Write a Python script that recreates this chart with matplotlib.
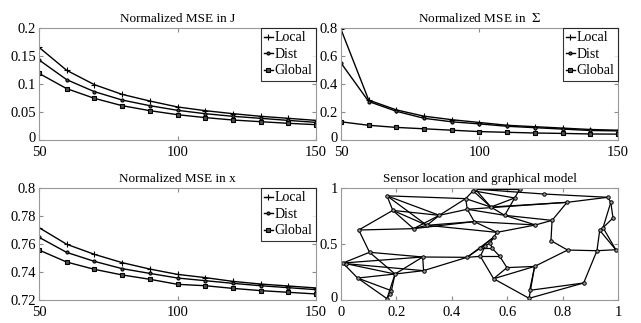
import matplotlib
matplotlib.use("Agg")
import matplotlib.pyplot as plt
import matplotlib.transforms as mtransforms

plt.rcParams['font.family'] = ['Liberation Serif', 'DejaVu Serif']
plt.rcParams['font.size'] = 10
plt.rcParams['mathtext.fontset'] = 'stix'

# number of sensors / samples
n = [50, 60, 70, 80, 90, 100, 110, 120, 130, 140, 150]
labels = ['Local', 'Dist', 'Global']

# normalized MSE in J
mse_J_local = [0.1655, 0.1244, 0.0988, 0.0815, 0.0696, 0.059, 0.0524, 0.047, 0.0423, 0.0387, 0.035]
mse_J_dist = [0.143, 0.1077, 0.0863, 0.0714, 0.0613, 0.053, 0.047, 0.0423, 0.0387, 0.035, 0.0315]
mse_J_global = [0.119, 0.0917, 0.0744, 0.0613, 0.0524, 0.0452, 0.040, 0.0357, 0.0327, 0.0298, 0.0274]

# normalized MSE in Sigma
mse_S_local = [0.79, 0.285, 0.215, 0.17, 0.145, 0.125, 0.105, 0.095, 0.085, 0.075, 0.07]
mse_S_dist = [0.55, 0.275, 0.205, 0.155, 0.13, 0.115, 0.098, 0.088, 0.078, 0.068, 0.065]
mse_S_global = [0.13, 0.105, 0.09, 0.08, 0.07, 0.06, 0.055, 0.05, 0.047, 0.043, 0.042]

# normalized MSE in x
mse_x_local = [0.7717, 0.7598, 0.7526, 0.7467, 0.7421, 0.7383, 0.736, 0.7333, 0.7314, 0.730, 0.7286]
mse_x_dist = [0.7648, 0.754, 0.7476, 0.7424, 0.739, 0.7357, 0.7338, 0.7319, 0.7302, 0.7288, 0.7274]
mse_x_global = [0.7557, 0.7471, 0.7419, 0.7379, 0.7348, 0.7312, 0.7302, 0.7283, 0.7267, 0.7255, 0.7243]

# sensor locations
sensor_x = [0.166, 0.187, 0.064, 0.262, 0.310, 0.355, 0.450, 0.485, 0.477, 0.645,
            0.734, 0.627, 0.541, 0.456, 0.481, 0.591, 0.702, 0.762, 0.816, 0.963,
            0.974, 0.982, 0.946, 0.934, 0.992, 0.924, 0.818, 0.758, 0.563, 0.551,
            0.539, 0.521, 0.503, 0.545, 0.503, 0.455, 0.573, 0.599, 0.551, 0.699,
            0.681, 0.679, 0.876, 0.103, 0.007, 0.019, 0.060, 0.195, 0.295, 0.298,
            0.182, 0.176, 0.166]
sensor_y = [0.930, 0.800, 0.625, 0.637, 0.667, 0.756, 0.905, 0.990, 0.975, 0.990,
            0.946, 0.911, 0.830, 0.810, 0.700, 0.756, 0.670, 0.711, 0.872, 0.917,
            0.872, 0.732, 0.646, 0.622, 0.449, 0.440, 0.446, 0.530, 0.604, 0.560,
            0.510, 0.485, 0.464, 0.464, 0.390, 0.381, 0.390, 0.289, 0.190, 0.300,
            0.086, 0.015, 0.152, 0.426, 0.330, 0.324, 0.196, 0.232, 0.384, 0.262,
            0.083, 0.054, 0.012]

# graphical model edges (pairs of sensor indices)
edges = [(0, 6), (0, 1), (0, 4), (0, 5), (1, 2), (1, 3), (1, 4), (1, 5), (2, 3),
         (3, 4), (4, 5), (3, 5), (4, 14), (5, 13), (5, 6), (2, 43), (6, 8), (6, 13),
         (6, 12), (7, 9), (8, 12), (7, 12), (9, 11), (11, 12), (7, 10), (10, 19),
         (11, 15), (13, 14), (12, 15), (13, 15), (14, 16), (14, 28), (15, 17),
         (28, 16), (16, 17), (17, 27), (17, 18), (18, 19), (19, 20), (20, 21),
         (21, 22), (20, 22), (22, 23), (23, 24), (22, 24), (23, 25), (25, 24),
         (26, 25), (27, 26), (25, 42), (42, 41), (42, 40), (39, 26), (39, 40),
         (39, 41), (39, 37), (38, 39), (38, 37), (38, 41), (37, 36), (36, 34),
         (34, 38), (36, 33), (29, 28), (29, 30), (30, 31), (31, 32), (32, 33),
         (30, 33), (29, 32), (31, 34), (32, 35), (35, 34), (35, 48), (35, 29),
         (49, 35), (43, 48), (43, 47), (44, 48), (44, 47), (45, 49), (44, 46),
         (46, 47), (46, 52), (46, 50), (47, 50), (47, 49), (47, 48), (48, 49),
         (50, 51), (51, 52), (47, 52), (44, 43), (12, 18), (8, 11), (15, 16),
         (13, 18), (4, 28), (3, 14)]

W, H = 641, 323
fig = plt.figure(figsize=(W / 100, H / 100), dpi=100)

ax_w = 277 / W
ax_h = 112 / H
lefts = [39 / W, 341 / W]
bottoms = [1 - 140 / H, 1 - 300 / H]

ax1 = fig.add_axes([lefts[0], bottoms[0], ax_w, ax_h])
ax2 = fig.add_axes([lefts[1], bottoms[0], ax_w, ax_h])
ax3 = fig.add_axes([lefts[0], bottoms[1], ax_w, ax_h])
ax4 = fig.add_axes([lefts[1], bottoms[1], ax_w, ax_h])

# nudge the bottom "0" y label up a bit so it clears the x labels
lift = mtransforms.ScaledTranslation(0, 3 / 100, fig.dpi_scale_trans)


def style(ax):
    ax.tick_params(direction='in', top=True, right=True, length=3,
                   color='0.55', labelsize=10.5)
    ax.tick_params(axis='x', pad=4)
    ax.tick_params(axis='y', pad=2)
    for s in ax.spines.values():
        s.set_color('0.6')
        s.set_linewidth(0.8)
    for lab in ax.get_yticklabels():
        if lab.get_text() == '0':
            lab.set_transform(lab.get_transform() + lift)


def mse_panel(ax, local, dist, glob, title, ylim, yticks, yticklabels):
    ax.plot(n, local, '-+', color='k', lw=1, ms=4, mew=0.8, label=labels[0])
    ax.plot(n, dist, '-o', color='k', lw=1, ms=2.2, mew=0.8, mfc='0.3', label=labels[1])
    ax.plot(n, glob, '-s', color='k', lw=1, ms=2.2, mew=0.8, mfc='0.3', label=labels[2])
    ax.set_xlim(50, 150)
    ax.set_ylim(*ylim)
    ax.set_xticks([50, 100, 150])
    ax.set_yticks(yticks)
    ax.set_yticklabels(yticklabels)
    ax.set_title(title, fontsize=9.5, pad=4)
    leg = ax.legend(loc='upper right', handlelength=0.6, handletextpad=0.15,
                    borderpad=0.25, labelspacing=0.25, fancybox=False,
                    borderaxespad=0, fontsize=10)
    leg.get_frame().set_edgecolor('k')
    leg.get_frame().set_linewidth(0.8)
    style(ax)


mse_panel(ax1, mse_J_local, mse_J_dist, mse_J_global, 'Normalized MSE in J',
          (0, 0.2), [0, 0.05, 0.1, 0.15, 0.2], ['0', '0.05', '0.1', '0.15', '0.2'])
mse_panel(ax2, mse_S_local, mse_S_dist, mse_S_global, r'Normalized MSE in  $\Sigma$',
          (0, 0.8), [0, 0.2, 0.4, 0.6, 0.8], ['0', '0.2', '0.4', '0.6', '0.8'])
mse_panel(ax3, mse_x_local, mse_x_dist, mse_x_global, 'Normalized MSE in x',
          (0.72, 0.8), [0.72, 0.74, 0.76, 0.78, 0.8], ['0.72', '0.74', '0.76', '0.78', '0.8'])

# sensor network
for i, j in edges:
    ax4.plot([sensor_x[i], sensor_x[j]], [sensor_y[i], sensor_y[j]], color='k', lw=0.9)
ax4.plot(sensor_x, sensor_y, 'o', ms=2.5, mfc='0.6', mec='k', mew=0.7)
ax4.set_xlim(0, 1)
ax4.set_ylim(0, 1)
ax4.set_xticks([0, 0.2, 0.4, 0.6, 0.8, 1])
ax4.set_xticklabels(['0', '0.2', '0.4', '0.6', '0.8', '1'])
ax4.set_yticks([0, 0.5, 1])
ax4.set_yticklabels(['0', '0.5', '1'])
ax4.set_title('Sensor location and graphical model', fontsize=9.5, pad=4)
style(ax4)

fig.savefig('out.png', dpi=100)
